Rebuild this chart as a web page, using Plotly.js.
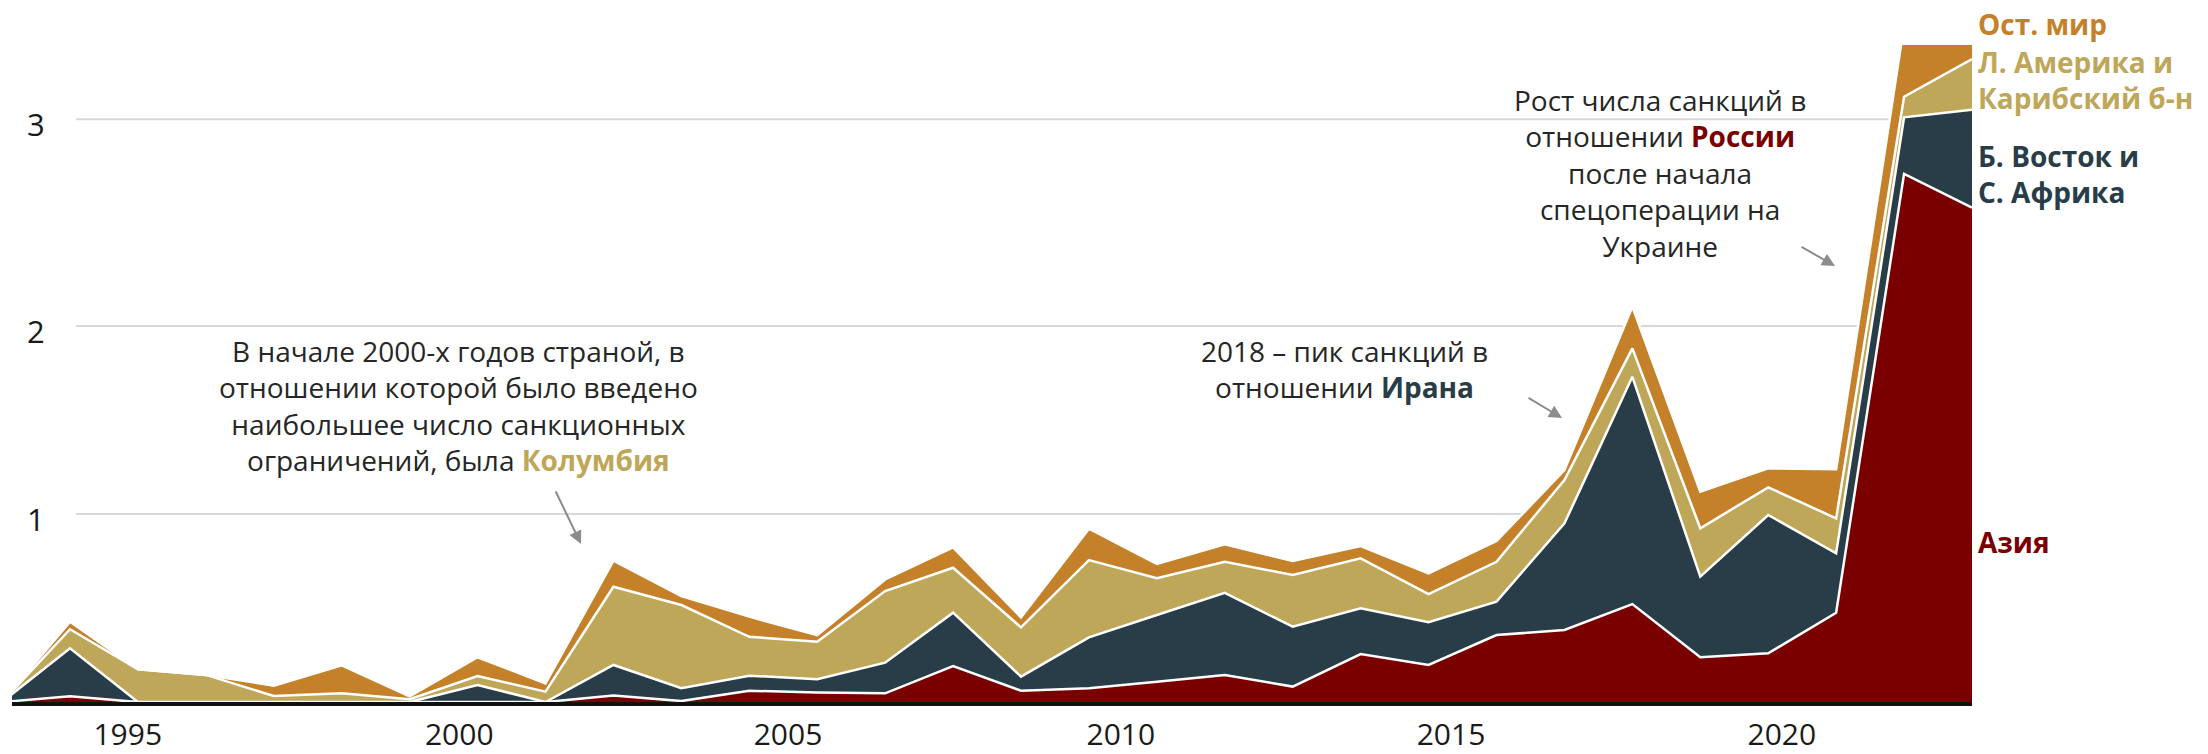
<!DOCTYPE html>
<html>
<head>
<meta charset="utf-8">
<script src="https://cdn.plot.ly/plotly-3.0.1.min.js"></script>
<style>
  html, body { margin: 0; padding: 0; background: #ffffff; }
  #chart { width: 2208px; height: 754px; }
</style>
</head>
<body>
<div id="chart"></div>
<script>
// ---- data (cumulative stack = Asia + MENA + LatAm + Other) ----
const years = [1994, 1995, 1996, 1997, 1998, 1999, 2000, 2001, 2002, 2003, 2004, 2005, 2006, 2007, 2008,
               2009, 2010, 2011, 2012, 2013, 2014, 2015, 2016, 2017, 2018, 2019, 2020, 2021, 2022, 2023];
const asia  = [0, 0.03, 0, 0, 0, 0, 0, 0, 0, 0.034, 0.005, 0.06, 0.05, 0.046, 0.191,
               0.06, 0.073, 0.108, 0.144, 0.082, 0.255, 0.197, 0.356, 0.383, 0.521, 0.238, 0.259, 0.475, 2.81, 2.63];
const mena  = [0, 0.256, 0, 0, 0, 0, 0, 0.09, 0, 0.163, 0.068, 0.08, 0.071, 0.163, 0.284,
               0.075, 0.271, 0.355, 0.437, 0.319, 0.243, 0.227, 0.178, 0.567, 1.209, 0.429, 0.736, 0.316, 0.30, 0.52];
const latam = [0, 0.101, 0.174, 0.144, 0.032, 0.046, 0.015, 0.048, 0.055, 0.416, 0.443, 0.207, 0.20, 0.381, 0.239,
               0.262, 0.411, 0.195, 0.165, 0.275, 0.266, 0.15, 0.212, 0.231, 0.151, 0.257, 0.147, 0.186, 0.11, 0.27];
const other = [0, 0.04, 0, 0, 0.055, 0.149, 0.015, 0.10, 0.044, 0.139, 0.048, 0.107, 0.035, 0.062, 0.109,
               0.053, 0.167, 0.076, 0.093, 0.074, 0.066, 0.11, 0.11, 0.053, 0.222, 0.195, 0.101, 0.261, 0.38, 0.10];

const seriesNames = ['Азия', 'Б. Восток и С. Африка', 'Л. Америка и Карибский б-н', 'Ост. мир'];

// axis ticks as drawn in the reference
const xTickText = ['1995', '2000', '2005', '2010', '2015', '2020'];
const xTickPos  = [1995.85, 2000.73, 2005.57, 2010.47, 2015.33, 2020.20];
const yTickText = ['1', '2', '3'];
const yTickPos  = [1, 2, 3.1];

// ---- styling ----
const C_ASIA = '#7a0000', C_MENA = '#283d47', C_LATAM = '#bfa75a', C_OTHER = '#c4812a';
const FONT = '"Open Sans", "Noto Sans", "DejaVu Sans", sans-serif';
const TXT = '#262626';

const W = 2208, H = 754, L = 12, R = 236, T = 45, B = 52;
const PW = W - L - R, PH = H - T - B;
const px = v => (v - L) / PW;          // page pixel -> paper x
const py = v => (H - B - v) / PH;      // page pixel -> paper y

function area(y, name, color) {
  return {
    x: years, y: y, name: name, type: 'scatter', mode: 'lines',
    stackgroup: 'one', line: { color: '#ffffff', width: 2.5, shape: 'linear' },
    fillcolor: color, hoverinfo: 'skip'
  };
}

const traces = [
  area(asia,  seriesNames[0], C_ASIA),
  area(mena,  seriesNames[1], C_MENA),
  area(latam, seriesNames[2], C_LATAM),
  area(other, seriesNames[3], C_OTHER)
];

const shapes = yTickPos.map(v => ({
  type: 'line', xref: 'paper', yref: 'y', x0: px(76), x1: 1, y0: v, y1: v,
  line: { color: '#d9d9d9', width: 2 }, layer: 'below'
}));

function note(text, x, y, opts) {
  return Object.assign({
    xref: 'paper', yref: 'paper', x: px(x), y: py(y), text: text, showarrow: false,
    xanchor: 'center', yanchor: 'middle', align: 'center',
    font: { family: FONT, size: 28, color: TXT }
  }, opts || {});
}
function arrow(tx, ty, ax, ay) {
  return {
    xref: 'paper', yref: 'paper', x: px(tx), y: py(ty), ax: ax, ay: ay, text: '',
    showarrow: true, arrowhead: 2, arrowsize: 1.3, arrowwidth: 2, arrowcolor: '#8c8c8c', standoff: 0
  };
}
const bold = (t, c) => '<b><span style="color:' + c + '">' + t + '</span></b>';

const annotations = [
  note('В начале 2000-х годов страной, в<br>отношении которой было введено<br>наибольшее число санкционных<br>ограничений, была ' + bold('Колумбия', C_LATAM), 458, 405),
  note('2018 – пик санкций в<br>отношении ' + bold('Ирана', C_MENA), 1344, 369),
  note('Рост числа санкций в<br>отношении ' + bold('России', C_ASIA) + '<br>после начала<br>спецоперации на<br>Украине', 1660, 173),
  arrow(581, 544, -26, -54),
  arrow(1562, 418, -35, -21),
  arrow(1835, 266, -35, -20),
  note('<b>Ост. мир</b>', 1976, 24, { xanchor: 'left', align: 'left', font: { family: FONT, size: 28, color: C_OTHER } }),
  note('<b>Л. Америка и<br>Карибский б-н</b>', 1976, 80, { xanchor: 'left', align: 'left', font: { family: FONT, size: 28, color: C_LATAM } }),
  note('<b>Б. Восток и<br>С. Африка</b>', 1976, 174, { xanchor: 'left', align: 'left', font: { family: FONT, size: 28, color: C_MENA } }),
  note('<b>Азия</b>', 1976, 542, { xanchor: 'left', align: 'left', font: { family: FONT, size: 28, color: C_ASIA } })
];

const layout = {
  width: W, height: H,
  margin: { l: L, r: R, t: T, b: B, pad: 0 },
  paper_bgcolor: '#ffffff', plot_bgcolor: 'rgba(0,0,0,0)',
  showlegend: false, hovermode: false,
  font: { family: FONT, color: TXT },
  xaxis: {
    range: [1994.146, 2023.0], tickvals: xTickPos, ticktext: xTickText,
    showgrid: false, zeroline: false, showline: true, linecolor: '#111111', linewidth: 4,
    ticks: '', tickfont: { family: FONT, size: 30, color: '#1a1a1a' }, ticklabelstandoff: 3
  },
  yaxis: {
    range: [0, 3.495], tickvals: yTickPos, ticktext: yTickText,
    showgrid: false, zeroline: false, showline: false, ticks: '',
    ticklabelposition: 'inside', ticklabelstandoff: 12, ticklabelshift: 6,
    tickfont: { family: FONT, size: 31, color: '#1a1a1a' }
  },
  shapes: shapes,
  annotations: annotations
};

Plotly.newPlot('chart', traces, layout, { staticPlot: true, displayModeBar: false });
</script>
</body>
</html>
